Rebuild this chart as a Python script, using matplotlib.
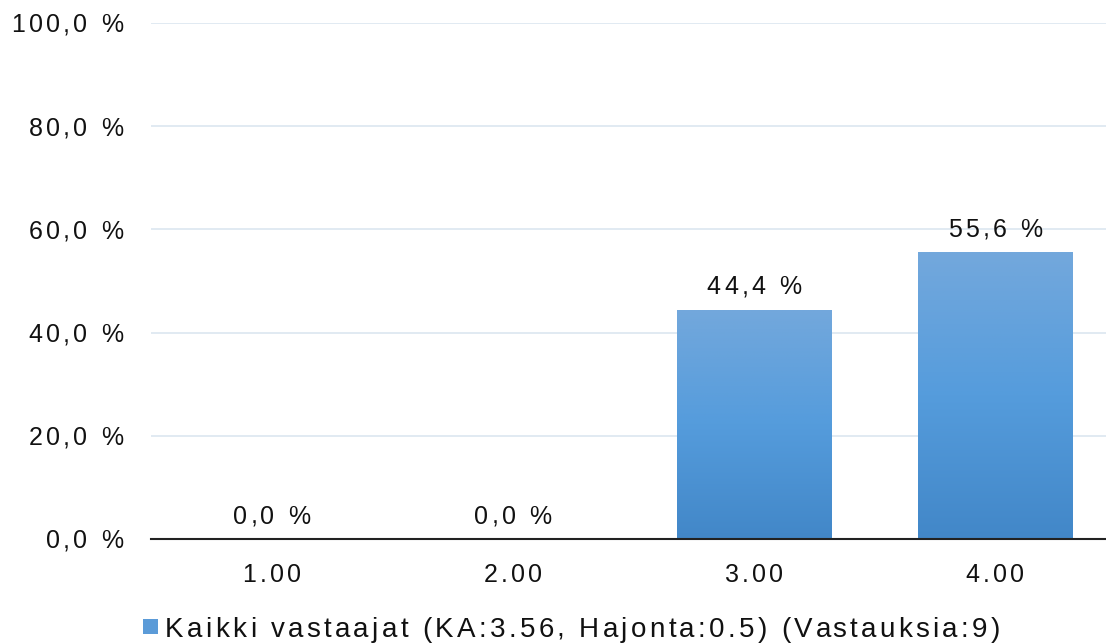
import matplotlib
matplotlib.use("Agg")
import matplotlib.pyplot as plt
import numpy as np
from matplotlib.patches import Rectangle
from matplotlib.colors import LinearSegmentedColormap
from matplotlib.font_manager import FontProperties
import matplotlib.transforms as mtransforms

categories = ["1.00", "2.00", "3.00", "4.00"]
values = [0.0, 0.0, 44.4, 55.6]
value_labels = ["0,0 %", "0,0 %", "44,4 %", "55,6 %"]
yticks = [0, 20, 40, 60, 80, 100]
ytick_labels = ["0,0 %", "20,0 %", "40,0 %", "60,0 %", "80,0 %", "100,0 %"]
legend_label = "Kaikki vastaajat (KA:3.56, Hajonta:0.5) (Vastauksia:9)"

plt.rcParams['font.family'] = ['Liberation Sans', 'DejaVu Sans']

W, H = 1106, 643
fig = plt.figure(figsize=(W/100, H/100), dpi=100)
left, right = 151, 1106
bottom, top = 539, 23
ax = fig.add_axes([left/W, 1 - bottom/H, (right-left)/W, (bottom-top)/H])
renderer = fig.canvas.get_renderer()
TEXT_COLOR = "#111111"


def text_width(s, size):
    prop = FontProperties(family=['Liberation Sans'], size=size)
    w, _, _ = renderer.get_text_width_height_descent(s, prop, ismath=False)
    return w


def advance(prefix, size):
    if not prefix:
        return 0.0
    return text_width(prefix + "l", size) - text_width("l", size)


def tracked_text(x, y, s, transform, size, tracking, ha="left", va="center",
                 dx=0.0, dy=0.0):
    total = advance(s, size) + tracking * (len(s) - 1)
    if ha == "center":
        start = -total / 2.0
    elif ha == "right":
        start = -total
    else:
        start = 0.0
    for i, ch in enumerate(s):
        if ch == " ":
            continue
        off = start + advance(s[:i], size) + tracking * i
        tr = mtransforms.offset_copy(transform, fig=fig, x=off + dx, y=dy, units="dots")
        fig.text(x, y, ch, transform=tr, fontsize=size, ha="left", va=va,
                 color=TEXT_COLOR, family=['Liberation Sans', 'DejaVu Sans'])
    return total


x = np.arange(len(categories))
bars = ax.bar(x, values, width=0.64, color="#5A9BD8", zorder=2)

grad = np.linspace(0, 1, 256).reshape(-1, 1)
cmap = LinearSegmentedColormap.from_list("g", ["#4287C8", "#559CDC", "#73A8DC"])
for b in bars:
    if b.get_height() <= 0:
        continue
    x0, y0 = b.get_x(), b.get_y()
    w, h = b.get_width(), b.get_height()
    im = ax.imshow(grad, cmap=cmap, origin="lower", aspect="auto",
                   extent=[x0, x0 + w, y0, y0 + h], zorder=3)
    im.set_clip_path(b)

ax.set_xlim(-0.5, 3.46)
ax.set_ylim(0, 100)
ax.set_yticks(yticks)
ax.set_yticklabels([])
ax.set_xticks(x)
ax.set_xticklabels([])
ax.tick_params(length=0)
ax.grid(axis='y', color="#DCE6F0", linewidth=1.2, zorder=0)
ax.set_axisbelow(True)
for s in ["top", "right", "left"]:
    ax.spines[s].set_visible(False)
ax.spines["bottom"].set_color("#222222")
ax.spines["bottom"].set_linewidth(1.5)
ax.spines["bottom"].set_zorder(5)

TICK_SIZE = 18
TRACK = 3.3

# y tick labels
for t, lab in zip(yticks, ytick_labels):
    tracked_text(0, t, lab, ax.get_yaxis_transform(), TICK_SIZE, TRACK,
                 ha="right", va="center_baseline", dx=-28, dy=0)

# x tick labels
for xi, lab in zip(x, categories):
    tracked_text(xi, 0, lab, ax.get_xaxis_transform(), TICK_SIZE, TRACK,
                 ha="center", va="center_baseline", dy=-34)

# value labels
for xi, v, lab in zip(x, values, value_labels):
    tracked_text(xi, v, lab, ax.transData, TICK_SIZE, TRACK,
                 ha="center", va="center_baseline", dy=25)

# legend
fig.patches.append(Rectangle((143/W, 1 - 634/H), 15/W, 15/H, transform=fig.transFigure,
                             facecolor="#5B9BD8", edgecolor="none"))
LEG_SIZE = 20
nat = advance(legend_label, LEG_SIZE)
leg_track = (835 - nat) / (len(legend_label) - 1)
tracked_text(165/W, 1 - 627/H, legend_label, fig.transFigure, LEG_SIZE, leg_track,
             ha="left", va="center_baseline", dy=0)

fig.savefig("out.png", dpi=100)
